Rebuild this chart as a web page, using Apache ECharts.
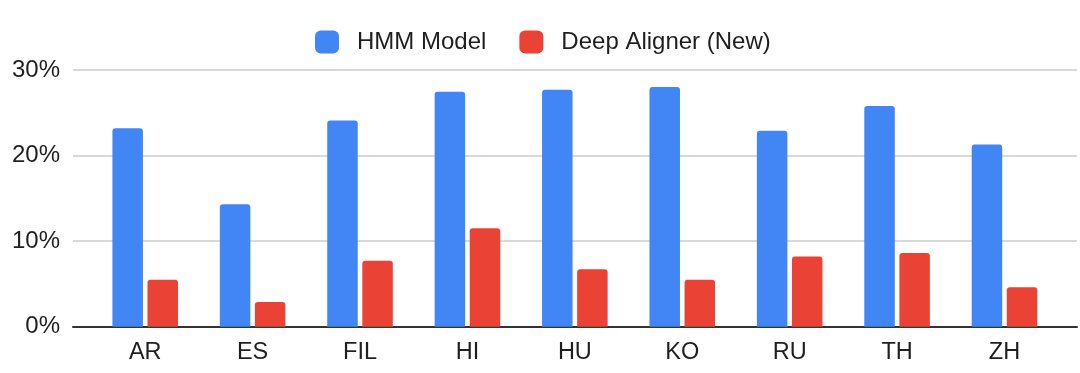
<!DOCTYPE html>
<html>
<head>
<meta charset="utf-8">
<script src="https://cdn.jsdelivr.net/npm/echarts@6/dist/echarts.min.js"></script>
<style>
html,body{margin:0;padding:0;background:#fff;}
#chart{width:1080px;height:373px;}
</style>
</head>
<body>
<div id="chart"></div>
<script>
const categories = ['AR', 'ES', 'FIL', 'HI', 'HU', 'KO', 'RU', 'TH', 'ZH'];
const hmmModel = [23.2, 14.3, 24.1, 27.45, 27.7, 28.0, 22.9, 25.8, 21.3];
const deepAligner = [5.5, 2.9, 7.7, 11.5, 6.7, 5.5, 8.2, 8.6, 4.6];
const yTicks = [0, 10, 20, 30];
const seriesNames = ['HMM Model', 'Deep Aligner (New)'];

const FONT = '"Liberation Sans", Arial, Helvetica, sans-serif';
const chart = echarts.init(document.getElementById('chart'), null, {renderer: 'canvas'});
const yMin = yTicks[0], yMax = yTicks[yTicks.length - 1], yStep = yTicks[1] - yTicks[0];

chart.setOption({
  animation: false,
  backgroundColor: '#ffffff',
  legend: {
    top: 30,
    left: 315,
    padding: 0,
    itemWidth: 24,
    itemHeight: 23,
    itemGap: 33,
    icon: 'roundRect',
    data: seriesNames,
    textStyle: {fontFamily: FONT, fontSize: 24, color: '#1f1f1f', padding: [0, 0, 0, 13]}
  },
  grid: [
    {left: 91.5, right: 21.8, top: 70, bottom: 46.3},
    {left: 73, right: 3, top: 70, bottom: 46.3}
  ],
  xAxis: [
    {
      type: 'category', gridIndex: 0, data: categories,
      axisLine: {show: false}, axisTick: {show: false},
      axisLabel: {fontFamily: FONT, fontSize: 23.5, color: '#1f1f1f', margin: 14}
    },
    {
      type: 'value', gridIndex: 1, min: 0, max: 1,
      axisLine: {show: true, lineStyle: {color: '#333333', width: 2}},
      axisTick: {show: false}, axisLabel: {show: false}, splitLine: {show: false}
    }
  ],
  yAxis: [
    {type: 'value', gridIndex: 0, min: yMin, max: yMax, interval: yStep, show: false, splitLine: {show: false}},
    {
      type: 'value', gridIndex: 1, min: yMin, max: yMax, interval: yStep,
      axisLine: {show: false}, axisTick: {show: false},
      axisLabel: {fontFamily: FONT, fontSize: 24, color: '#1f1f1f', margin: 13, formatter: '{value}%'},
      splitLine: {show: true, lineStyle: {color: '#cccccc', width: 1.5}}
    }
  ],
  series: [
    {
      name: seriesNames[0], type: 'bar', xAxisIndex: 0, yAxisIndex: 0,
      data: hmmModel, barWidth: 30.5, barGap: '15%',
      itemStyle: {color: '#4285F4', borderRadius: [3, 3, 0, 0]}
    },
    {
      name: seriesNames[1], type: 'bar', xAxisIndex: 0, yAxisIndex: 0,
      data: deepAligner, barWidth: 30.5, barGap: '15%',
      itemStyle: {color: '#EA4335', borderRadius: [3, 3, 0, 0]}
    }
  ]
});
</script>
</body>
</html>
